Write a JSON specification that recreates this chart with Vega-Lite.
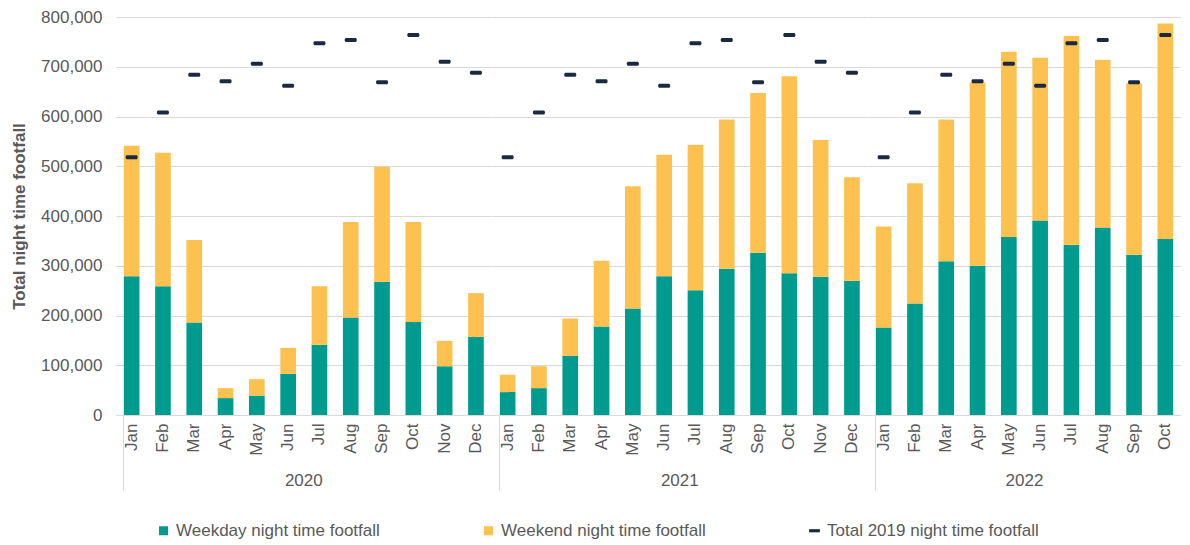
{
  "$schema": "https://vega.github.io/schema/vega-lite/v6.json",
  "padding": {"left": 10, "top": 8, "right": 0, "bottom": 0},
  "background": "white",
  "config": {
    "font": "Liberation Sans",
    "view": {"stroke": null},
    "axis": {"labelFont": "Liberation Sans", "titleFont": "Liberation Sans", "labelColor": "#595959", "titleColor": "#595959"}
  },
  "data": {"values": [
    {"year": "2020", "month": "Jan", "Weekday night time footfall": 279000, "Weekend night time footfall": 262000, "Total 2019 night time footfall": 518000},
    {"year": "2020", "month": "Feb", "Weekday night time footfall": 259000, "Weekend night time footfall": 268000, "Total 2019 night time footfall": 608000},
    {"year": "2020", "month": "Mar", "Weekday night time footfall": 186000, "Weekend night time footfall": 166000, "Total 2019 night time footfall": 684000},
    {"year": "2020", "month": "Apr", "Weekday night time footfall": 34000, "Weekend night time footfall": 20000, "Total 2019 night time footfall": 671000},
    {"year": "2020", "month": "May", "Weekday night time footfall": 39000, "Weekend night time footfall": 33000, "Total 2019 night time footfall": 706000},
    {"year": "2020", "month": "Jun", "Weekday night time footfall": 83000, "Weekend night time footfall": 52000, "Total 2019 night time footfall": 662000},
    {"year": "2020", "month": "Jul", "Weekday night time footfall": 141000, "Weekend night time footfall": 118000, "Total 2019 night time footfall": 747000},
    {"year": "2020", "month": "Aug", "Weekday night time footfall": 196000, "Weekend night time footfall": 192000, "Total 2019 night time footfall": 754000},
    {"year": "2020", "month": "Sep", "Weekday night time footfall": 268000, "Weekend night time footfall": 231000, "Total 2019 night time footfall": 669000},
    {"year": "2020", "month": "Oct", "Weekday night time footfall": 187000, "Weekend night time footfall": 201000, "Total 2019 night time footfall": 764000},
    {"year": "2020", "month": "Nov", "Weekday night time footfall": 98000, "Weekend night time footfall": 51000, "Total 2019 night time footfall": 710000},
    {"year": "2020", "month": "Dec", "Weekday night time footfall": 157000, "Weekend night time footfall": 88000, "Total 2019 night time footfall": 688000},
    {"year": "2021", "month": "Jan", "Weekday night time footfall": 46000, "Weekend night time footfall": 35000, "Total 2019 night time footfall": 518000},
    {"year": "2021", "month": "Feb", "Weekday night time footfall": 54000, "Weekend night time footfall": 44000, "Total 2019 night time footfall": 608000},
    {"year": "2021", "month": "Mar", "Weekday night time footfall": 119000, "Weekend night time footfall": 75000, "Total 2019 night time footfall": 684000},
    {"year": "2021", "month": "Apr", "Weekday night time footfall": 178000, "Weekend night time footfall": 132000, "Total 2019 night time footfall": 671000},
    {"year": "2021", "month": "May", "Weekday night time footfall": 214000, "Weekend night time footfall": 246000, "Total 2019 night time footfall": 706000},
    {"year": "2021", "month": "Jun", "Weekday night time footfall": 279000, "Weekend night time footfall": 244000, "Total 2019 night time footfall": 662000},
    {"year": "2021", "month": "Jul", "Weekday night time footfall": 251000, "Weekend night time footfall": 292000, "Total 2019 night time footfall": 747000},
    {"year": "2021", "month": "Aug", "Weekday night time footfall": 294000, "Weekend night time footfall": 300000, "Total 2019 night time footfall": 754000},
    {"year": "2021", "month": "Sep", "Weekday night time footfall": 326000, "Weekend night time footfall": 321000, "Total 2019 night time footfall": 669000},
    {"year": "2021", "month": "Oct", "Weekday night time footfall": 285000, "Weekend night time footfall": 396000, "Total 2019 night time footfall": 764000},
    {"year": "2021", "month": "Nov", "Weekday night time footfall": 278000, "Weekend night time footfall": 275000, "Total 2019 night time footfall": 710000},
    {"year": "2021", "month": "Dec", "Weekday night time footfall": 270000, "Weekend night time footfall": 208000, "Total 2019 night time footfall": 688000},
    {"year": "2022", "month": "Jan", "Weekday night time footfall": 176000, "Weekend night time footfall": 203000, "Total 2019 night time footfall": 518000},
    {"year": "2022", "month": "Feb", "Weekday night time footfall": 224000, "Weekend night time footfall": 242000, "Total 2019 night time footfall": 608000},
    {"year": "2022", "month": "Mar", "Weekday night time footfall": 309000, "Weekend night time footfall": 285000, "Total 2019 night time footfall": 684000},
    {"year": "2022", "month": "Apr", "Weekday night time footfall": 300000, "Weekend night time footfall": 369000, "Total 2019 night time footfall": 671000},
    {"year": "2022", "month": "May", "Weekday night time footfall": 358000, "Weekend night time footfall": 372000, "Total 2019 night time footfall": 706000},
    {"year": "2022", "month": "Jun", "Weekday night time footfall": 391000, "Weekend night time footfall": 327000, "Total 2019 night time footfall": 662000},
    {"year": "2022", "month": "Jul", "Weekday night time footfall": 342000, "Weekend night time footfall": 420000, "Total 2019 night time footfall": 747000},
    {"year": "2022", "month": "Aug", "Weekday night time footfall": 377000, "Weekend night time footfall": 337000, "Total 2019 night time footfall": 754000},
    {"year": "2022", "month": "Sep", "Weekday night time footfall": 322000, "Weekend night time footfall": 345000, "Total 2019 night time footfall": 669000},
    {"year": "2022", "month": "Oct", "Weekday night time footfall": 354000, "Weekend night time footfall": 433000, "Total 2019 night time footfall": 764000}
  ]},
  "transform": [
    {"fold": ["Weekday night time footfall", "Weekend night time footfall", "Total 2019 night time footfall"], "as": ["series", "value"]}
  ],
  "facet": {
    "column": {
      "field": "year", "type": "ordinal",
      "header": {"title": null, "labelOrient": "bottom", "labelFontSize": 17, "labelColor": "#595959", "labelFont": "Liberation Sans", "labelPadding": -18}
    }
  },
  "spacing": 0,
  "resolve": {"scale": {"x": "independent"}, "axis": {"x": "independent"}},
  "spec": {
    "width": {"step": 31.3},
    "height": 398,
    "layer": [
      {
        "transform": [{"filter": "datum.series != 'Total 2019 night time footfall'"}],
        "mark": {"type": "bar"},
        "encoding": {
          "x": {
            "field": "month", "type": "nominal", "sort": null,
            "scale": {"paddingInner": 0.5, "paddingOuter": 0.25},
            "axis": {"title": null, "orient": "bottom", "labelAngle": -90, "ticks": false, "domainColor": "#D9D9D9", "labelFontSize": 17, "labelPadding": 8, "grid": false}
          },
          "y": {
            "field": "value", "type": "quantitative", "aggregate": "sum", "stack": "zero",
            "scale": {"domain": [0, 800000], "nice": false},
            "axis": {"title": "Total night time footfall", "titleFontSize": 17, "titleFontWeight": "bold", "titlePadding": 12, "labelFontSize": 17, "labelPadding": 14, "labelExpr": "format(datum.value, ',')", "values": [0, 100000, 200000, 300000, 400000, 500000, 600000, 700000, 800000], "domain": false, "ticks": false, "gridColor": "#D9D9D9", "gridWidth": 1}
          },
          "order": {"field": "series", "sort": "ascending"},
          "color": {
            "field": "series", "type": "nominal",
            "scale": {"domain": ["Weekday night time footfall", "Weekend night time footfall", "Total 2019 night time footfall"], "range": ["#009B8F", "#FCC14F", "#1B2A41"]},
            "legend": {
              "title": null, "orient": "none", "legendX": 39, "legendY": 505, "direction": "horizontal",
              "labelFontSize": 17, "labelColor": "#595959", "labelFont": "Liberation Sans", "labelOffset": 4, "labelLimit": 400,
              "symbolSize": 81, "symbolType": "square", "symbolStrokeWidth": 0, "symbolOpacity": 1, "columnPadding": 100,
              "encode": {"symbols": {"update": {"shape": {"signal": "datum.value == 'Total 2019 night time footfall' ? 'M-1.2,-0.35H1.2V0.35H-1.2Z' : 'square'"}}}}
            }
          }
        }
      },
      {
        "transform": [{"filter": "datum.series == 'Total 2019 night time footfall'"}],
        "mark": {"type": "tick", "thickness": 4, "size": 12, "cornerRadius": 1.5, "opacity": 1},
        "encoding": {
          "x": {
            "field": "month", "type": "nominal", "sort": null,
            "axis": {"title": null, "orient": "bottom", "values": ["Jan"], "labels": false, "domain": false, "ticks": true, "tickSize": 75, "bandPosition": 0, "tickColor": "#D9D9D9", "grid": false}
          },
          "y": {
            "field": "value", "type": "quantitative",
            "scale": {"domain": [0, 800000], "nice": false},
            "axis": {"title": "Total night time footfall", "titleFontSize": 17, "titleFontWeight": "bold", "titlePadding": 12, "labelFontSize": 17, "labelPadding": 14, "labelExpr": "format(datum.value, ',')", "values": [0, 100000, 200000, 300000, 400000, 500000, 600000, 700000, 800000], "domain": false, "ticks": false, "gridColor": "#D9D9D9", "gridWidth": 1}
          },
          "color": {"field": "series", "type": "nominal"}
        }
      }
    ],
    "resolve": {"axis": {"x": "independent"}}
  }
}
